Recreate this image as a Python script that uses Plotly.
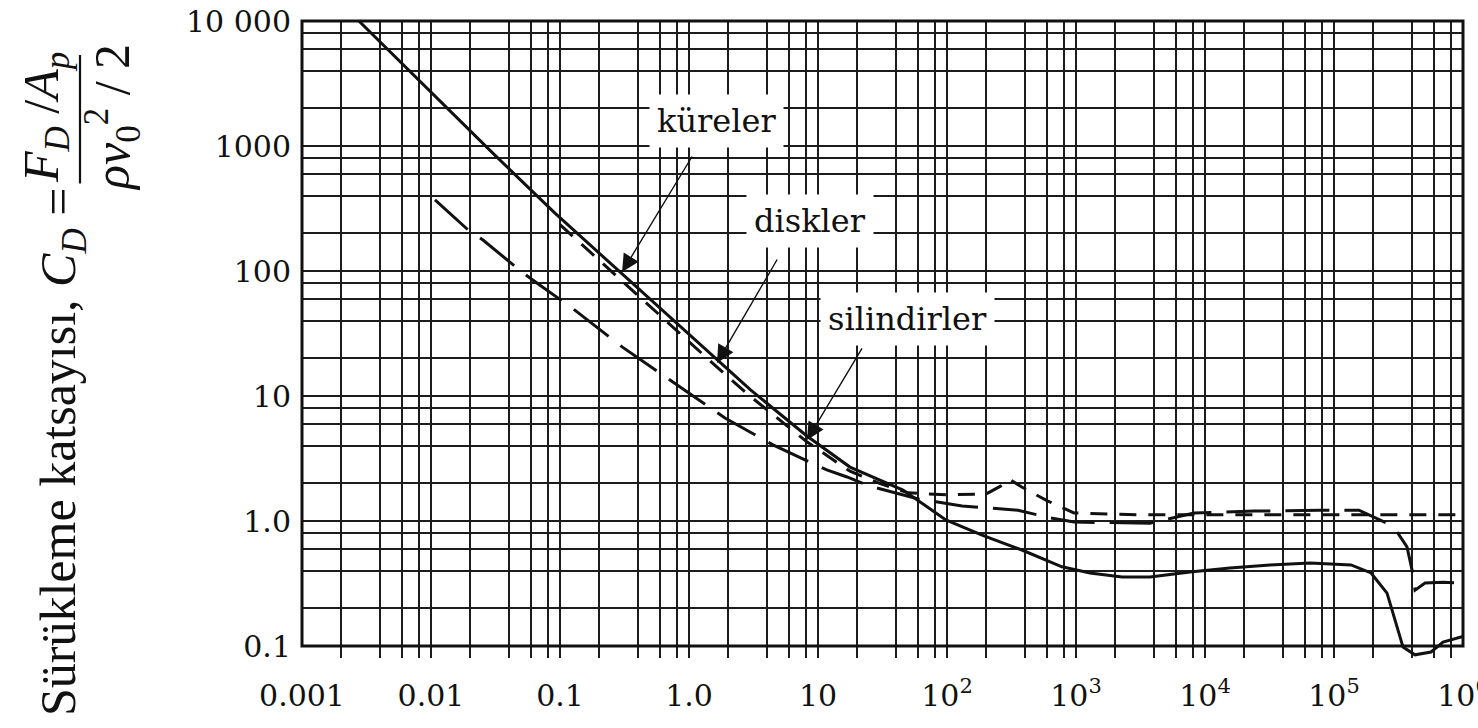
import numpy as np
import plotly.graph_objects as go

# ---------------- data ----------------
re_sphere = [0.00276, 0.01, 0.03, 0.0914, 0.303, 1.0, 1.65, 3.0, 8.2, 17.7, 45.6, 98, 187, 381, 778,
             1285, 2274, 3750, 7650, 15600, 31900, 65200, 135500, 193700, 257700, 297000, 343000,
             424000, 565000, 700000, 964000, 1000000]
cd_sphere = [10000, 2700, 880, 290, 95, 31, 19.4, 11.2, 4.79, 2.70, 1.77, 1.02, 0.77, 0.586, 0.43,
             0.384, 0.356, 0.356, 0.391, 0.421, 0.445, 0.461, 0.445, 0.384, 0.265, 0.161, 0.098,
             0.085, 0.0895, 0.1076, 0.118, 0.119]

re_disk = [0.1, 0.3, 1.0, 1.65, 3.0, 8.2, 17.7, 30, 50, 100, 200, 260, 307, 380, 600, 964,
           3000, 10000, 100000, 1000000]
cd_disk = [235, 84, 27, 17, 9.9, 4.3, 2.5, 2.0, 1.68, 1.62, 1.64, 1.9, 2.15, 1.87, 1.45, 1.16,
           1.12, 1.12, 1.12, 1.12]

re_cyl = [0.01074, 0.0194, 0.0253, 0.0507, 0.070, 0.124, 0.303, 0.807, 1.90, 4.48, 11.7, 16.8,
          25.3, 60, 131, 355, 628, 964, 3750, 8220, 24000, 77800, 156000, 258000, 313000, 368000,
          403000, 425000, 508000, 700000, 1000000]
cd_cyl = [370, 213, 177, 98, 77, 50.6, 24.7, 12.2, 6.67, 4.06, 2.56, 2.25, 1.9, 1.5, 1.32, 1.22,
          1.06, 0.98, 0.96, 1.16, 1.20, 1.22, 1.22, 0.96, 0.80, 0.62, 0.405, 0.28, 0.319, 0.324, 0.319]

x_tick_vals = [0.001, 0.01, 0.1, 1, 10, 100, 1000, 10000, 100000, 1000000]
x_tick_text = ["0.001", "0.01", "0.1", "1.0", "10", "10<sup>2</sup>", "10<sup>3</sup>",
               "10<sup>4</sup>", "10<sup>5</sup>", "10<sup>6</sup>"]
y_tick_vals = [0.1, 1, 10, 100, 1000, 10000]
y_tick_text = ["0.1", "1.0", "10", "100", "1000", "10 000"]

# label annotations: (text, tip Re, tip CD, tail Re, tail CD)
labels = [
    ("küreler", 0.303, 98, 1.074, 847),
    ("diskler", 1.648, 18.4, 4.90, 127),
    ("silindirler", 8.22, 4.45, 22.3, 24.7),
]

# ---------------- layout geometry ----------------
W, H = 1478, 728
L, R, T, B = 302, 1463, 21, 658
Y_LO = -1.096          # a little room below 0.1 for the dip of the sphere curve
Y_HI = 4.0


def pxx(px):
    return (px - L) / (R - L)


def pxy(py):
    return (B - py) / (B - T)


y_bottom_paper = (np.log10(0.1) - Y_LO) / (Y_HI - Y_LO)

minor_mult = [2, 4, 6, 8]
x_minor = [m * 10.0 ** k for k in range(-3, 6) for m in minor_mult]
y_minor = [m * 10.0 ** k for k in range(-1, 4) for m in minor_mult]

GRID = "#1c1c1c"
fig = go.Figure()

fig.add_trace(go.Scatter(x=re_sphere, y=cd_sphere, mode="lines", name="küreler",
                         line=dict(color="#111", width=3)))
fig.add_trace(go.Scatter(x=re_disk, y=cd_disk, mode="lines", name="diskler",
                         line=dict(color="#111", width=3, dash="17px,12px")))
fig.add_trace(go.Scatter(x=re_cyl, y=cd_cyl, mode="lines", name="silindirler",
                         line=dict(color="#111", width=3, dash="44px,15px")))

tick_font = dict(family="DejaVu Serif", size=30, color="#111")

fig.update_xaxes(type="log", range=[-3, 6], tickmode="array", tickvals=x_tick_vals,
                 ticktext=x_tick_text, showgrid=True, gridcolor=GRID, gridwidth=2,
                 zeroline=False, showline=False, ticks="", tickfont=tick_font,
                 ticklabelstandoff=17, automargin=False, ticklabeloverflow="allow",
                 minor=dict(tickmode="array", tickvals=x_minor, showgrid=True, gridcolor=GRID,
                            gridwidth=2, ticks=""))
fig.update_yaxes(type="log", range=[Y_LO, Y_HI], tickmode="array", tickvals=y_tick_vals,
                 ticktext=y_tick_text, showgrid=True, gridcolor=GRID, gridwidth=2,
                 zeroline=False, showline=False, ticks="", tickfont=tick_font,
                 ticklabelstandoff=10, automargin=False, ticklabeloverflow="allow",
                 minor=dict(tickmode="array", tickvals=y_minor, showgrid=True, gridcolor=GRID,
                            gridwidth=2, ticks=""))

shapes = [
    # hide the grid in the strip below CD = 0.1 (curve stays visible)
    dict(type="rect", xref="paper", yref="paper", x0=0, x1=1, y0=0, y1=y_bottom_paper,
         fillcolor="white", line=dict(width=0), layer="between"),
    # frame
    dict(type="rect", xref="paper", yref="paper", x0=0, x1=1, y0=y_bottom_paper, y1=1,
         line=dict(color="#111", width=3), fillcolor="rgba(0,0,0,0)", layer="above"),
]

ann = []
lab_font = dict(family="DejaVu Serif", size=32, color="#111")
text_pos = {"küreler": (716, 121), "diskler": (810, 221), "silindirler": (907, 319)}
for text, tre, tcd, are, acd in labels:
    px, py = text_pos[text]
    ann.append(dict(x=pxx(px), y=pxy(py), xref="paper", yref="paper", text=text,
                    showarrow=False, font=lab_font, bgcolor="white", borderpad=7,
                    xanchor="center", yanchor="middle"))
    ann.append(dict(x=np.log10(tre), y=np.log10(tcd), ax=np.log10(are), ay=np.log10(acd),
                    xref="x", yref="y", axref="x", ayref="y", text="", showarrow=True,
                    arrowhead=2, arrowsize=2.5, arrowwidth=1.4, arrowcolor="#111"))

SERIF = "Liberation Serif, Tinos, Nimbus Roman, FreeSerif, Times New Roman, DejaVu Serif, serif"
title_font = dict(family=SERIF, size=50, color="#111")
ann.append(dict(x=pxx(62), y=pxy(718), xref="paper", yref="paper", textangle=-90,
                text="Sürükleme katsayısı, <i>C</i><sub><i>D</i></sub> =",
                showarrow=False, font=title_font, xanchor="center", yanchor="bottom"))
ann.append(dict(x=pxx(45), y=pxy(118), xref="paper", yref="paper", textangle=-90,
                text="<i>F</i><sub><i>D</i></sub> /<i>A</i><sub><i>p</i></sub>",
                showarrow=False, font=title_font, xanchor="center", yanchor="middle"))
ann.append(dict(x=pxx(112), y=pxy(118), xref="paper", yref="paper", textangle=-90,
                text="<i>ρv</i><sub>0</sub><sup>2</sup> / 2",
                showarrow=False, font=title_font, xanchor="center", yanchor="middle"))
# fraction bar of the y-axis title (a head-less arrow)
ann.append(dict(x=pxx(80), y=pxy(55), xref="paper", yref="paper", ax=0, ay=130,
                text="", showarrow=True, arrowhead=0, arrowwidth=2.2, arrowcolor="#111",
                standoff=0, startstandoff=0))

fig.update_layout(width=W, height=H, margin=dict(l=L, r=W - R, t=T, b=H - B),
                  paper_bgcolor="white", plot_bgcolor="white", showlegend=False,
                  template="none", shapes=shapes, annotations=ann)

fig.write_html("out.html", config={"displayModeBar": False},
               post_script="document.body.style.margin='0';document.body.style.padding='0';")
